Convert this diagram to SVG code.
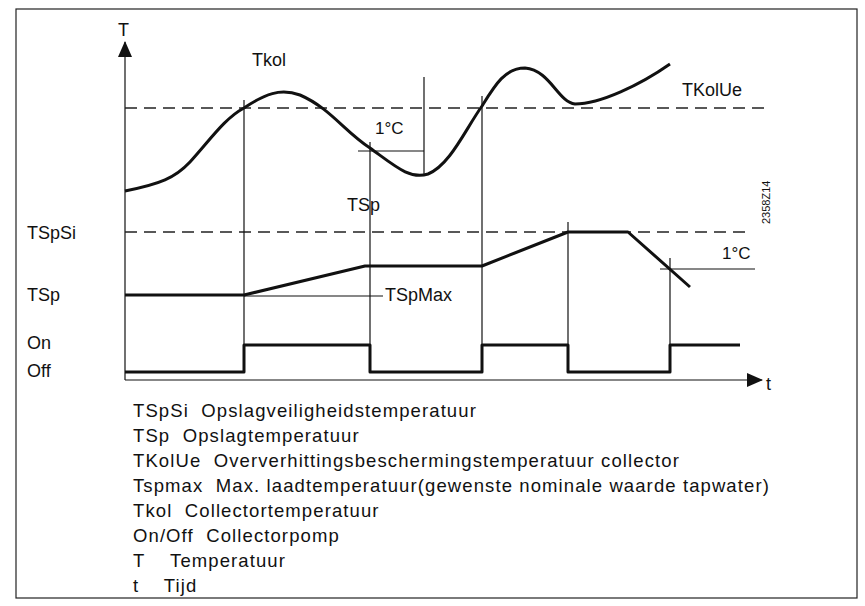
<svg xmlns="http://www.w3.org/2000/svg" width="865" height="606" viewBox="0 0 865 606">
<defs><style>
.t{font-family:"Liberation Sans",Arial,sans-serif;font-size:18px;fill:#111}
.s{font-family:"Liberation Sans",Arial,sans-serif;font-size:17px;fill:#111}
.l{font-family:"Liberation Sans",Arial,sans-serif;font-size:18.5px;letter-spacing:1.1px;fill:#111}
.th{stroke:#111;stroke-width:1.2;fill:none}
.tk{stroke:#111;stroke-width:3;fill:none;stroke-linejoin:round}
.d{stroke:#222;stroke-width:1.5;stroke-dasharray:12,7;fill:none}
</style>
<marker id="ar" markerWidth="16" markerHeight="14" refX="15" refY="7" orient="auto" markerUnits="userSpaceOnUse"><path d="M0,0L16,7L0,14Z" fill="#111"/></marker>
</defs>
<rect x="0" y="0" width="865" height="606" fill="#fff"/>
<rect x="16" y="9" width="841" height="589" fill="none" stroke="#222" stroke-width="1.2"/>
<g id="connectors">
<line class="th" x1="125" y1="380" x2="125" y2="42" stroke-width="1.5" marker-end="url(#ar)"/>
<line class="th" x1="125" y1="380" x2="762" y2="380" stroke-width="1.5" marker-end="url(#ar)"/>
<line class="d" x1="125" y1="108" x2="765" y2="108"/>
<line class="d" x1="125" y1="232" x2="750" y2="232"/>
<line class="th" x1="244" y1="100" x2="244" y2="372"/>
<line class="th" x1="370" y1="142" x2="370" y2="372"/>
<line class="th" x1="482" y1="96" x2="482" y2="372"/>
<line class="th" x1="568" y1="222" x2="568" y2="372"/>
<line class="th" x1="670" y1="258" x2="670" y2="372"/>
<line class="th" x1="424" y1="77" x2="424" y2="175"/>
<line class="th" x1="358" y1="151" x2="424" y2="151"/>
<line class="th" x1="660" y1="269" x2="755" y2="269"/>
<line class="th" x1="244" y1="296" x2="383" y2="296"/>
<path class="tk" d="M125,191 C160,184 175,178 190,162 C210,140 225,118 244,108 C265,94 280,88 300,95 C330,108 345,132 370,148 C395,166 410,180 428,174 C450,165 465,130 482,106 C495,85 505,68 525,68 C550,70 558,102 575,104 C600,104 640,85 670,64"/>
<path class="tk" d="M125,295 L244,295 L365,266 L482,266 L568,232 L628,232 L690,287"/>
<path class="tk" d="M125,372 L244,372 L244,345 L370,345 L370,372 L482,372 L482,345 L568,345 L568,372 L670,372 L670,345 L740,345"/>
</g>
<g id="labels">
<text class="t" x="118" y="36">T</text>
<text class="t" x="766" y="390">t</text>
<text class="t" x="252" y="66">Tkol</text>
<text class="t" x="682" y="96">TKolUe</text>
<text class="s" x="375" y="134">1°C</text>
<text class="t" x="347" y="211">TSp</text>
<text class="s" x="722" y="259">1°C</text>
<text class="t" x="385" y="301">TSpMax</text>
<text class="t" x="27" y="239">TSpSi</text>
<text class="t" x="27" y="301">TSp</text>
<text class="t" x="27" y="349">On</text>
<text class="t" x="27" y="377">Off</text>
<text x="0" y="0" transform="translate(770,224) rotate(-90)" style="font-family:'Liberation Sans',Arial,sans-serif;font-size:11px;fill:#111">2358Z14</text>
</g>
<g id="legend">
<text class="l" x="133" y="417">TSpSi&#160; Opslagveiligheidstemperatuur</text>
<text class="l" x="133" y="442">TSp&#160; Opslagtemperatuur</text>
<text class="l" x="133" y="467">TKolUe&#160; Oververhittingsbeschermingstemperatuur collector</text>
<text class="l" x="133" y="492">Tspmax&#160; Max. laadtemperatuur(gewenste nominale waarde tapwater)</text>
<text class="l" x="133" y="517">Tkol&#160; Collectortemperatuur</text>
<text class="l" x="133" y="542">On/Off&#160; Collectorpomp</text>
<text class="l" x="133" y="567">T&#160;&#160;&#160; Temperatuur</text>
<text class="l" x="133" y="592">t&#160;&#160;&#160; Tijd</text>
</g>
</svg>
